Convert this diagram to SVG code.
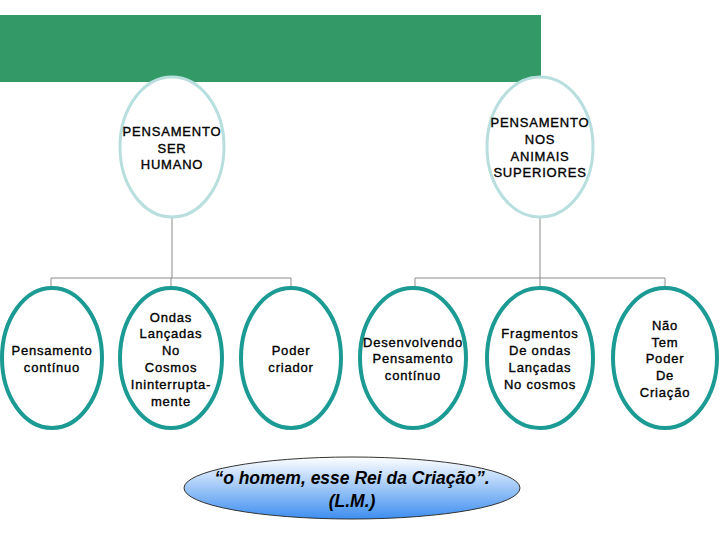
<svg xmlns="http://www.w3.org/2000/svg" width="720" height="540" viewBox="0 0 720 540">
<defs>
<linearGradient id="bg" x1="0" y1="0" x2="0" y2="1">
<stop offset="0" stop-color="#ffffff"/>
<stop offset="1" stop-color="#3d8ef0"/>
</linearGradient>
</defs>
<style>
.top{fill:#fff;stroke:#b8dede;stroke-width:3}
.child{fill:#fff;stroke:#1c9a94;stroke-width:4}
.t{font-family:"Liberation Sans",Arial,sans-serif;font-size:13px;fill:#000;stroke:#000;stroke-width:0.35;text-anchor:middle;letter-spacing:0.8px}
.c{fill:none;stroke:#8c8c8c;stroke-width:1}
.q{font-family:"Liberation Sans",Arial,sans-serif;font-size:17.5px;font-style:italic;font-weight:bold;fill:#000;text-anchor:middle}
</style>
<rect x="0" y="15" width="541" height="67" fill="#339966"/>
<g id="connectors">
<path class="c" d="M172 217V278M51 288V278H291V288M171 278V288"/>
<path class="c" d="M540 217V278M415 288V278H665V288M540 278V288"/>
</g>
<g id="n-humano">
<ellipse class="top" cx="172" cy="147" rx="52" ry="70"/>
<text class="t" x="172" y="136">PENSAMENTO</text>
<text class="t" x="172" y="153">SER</text>
<text class="t" x="172" y="169">HUMANO</text>
</g>
<g id="n-animais">
<ellipse class="top" cx="540" cy="147" rx="53" ry="70"/>
<text class="t" x="540" y="127">PENSAMENTO</text>
<text class="t" x="540" y="144">NOS</text>
<text class="t" x="540" y="161">ANIMAIS</text>
<text class="t" x="540" y="177">SUPERIORES</text>
</g>
<g id="n-c1">
<ellipse class="child" cx="52" cy="358" rx="50" ry="70"/>
<text class="t" x="52" y="355">Pensamento</text>
<text class="t" x="52" y="372">contínuo</text>
</g>
<g id="n-c2">
<ellipse class="child" cx="171" cy="358" rx="51" ry="70"/>
<text class="t" x="171" y="322">Ondas</text>
<text class="t" x="171" y="338">Lançadas</text>
<text class="t" x="171" y="355">No</text>
<text class="t" x="171" y="372">Cosmos</text>
<text class="t" x="171" y="389">Ininterrupta-</text>
<text class="t" x="171" y="406">mente</text>
</g>
<g id="n-c3">
<ellipse class="child" cx="291" cy="358" rx="50" ry="70"/>
<text class="t" x="291" y="355">Poder</text>
<text class="t" x="291" y="372">criador</text>
</g>
<g id="n-c4">
<ellipse class="child" cx="413" cy="358" rx="53" ry="70"/>
<text class="t" x="413" y="347">Desenvolvendo</text>
<text class="t" x="413" y="363">Pensamento</text>
<text class="t" x="413" y="380">contínuo</text>
</g>
<g id="n-c5">
<ellipse class="child" cx="540" cy="358" rx="53" ry="70"/>
<text class="t" x="540" y="338">Fragmentos</text>
<text class="t" x="540" y="355">De ondas</text>
<text class="t" x="540" y="372">Lançadas</text>
<text class="t" x="540" y="389">No cosmos</text>
</g>
<g id="n-c6">
<ellipse class="child" cx="665" cy="358" rx="52" ry="70"/>
<text class="t" x="665" y="330">Não</text>
<text class="t" x="665" y="347">Tem</text>
<text class="t" x="665" y="363">Poder</text>
<text class="t" x="665" y="380">De</text>
<text class="t" x="665" y="397">Criação</text>
</g>
<g id="n-quote">
<ellipse cx="352" cy="488" rx="168" ry="31" fill="url(#bg)" stroke="#333" stroke-width="1"/>
<text class="q" x="352" y="484">“o homem, esse Rei da Criação”.</text>
<text class="q" x="352" y="507">(L.M.)</text>
</g>
</svg>
